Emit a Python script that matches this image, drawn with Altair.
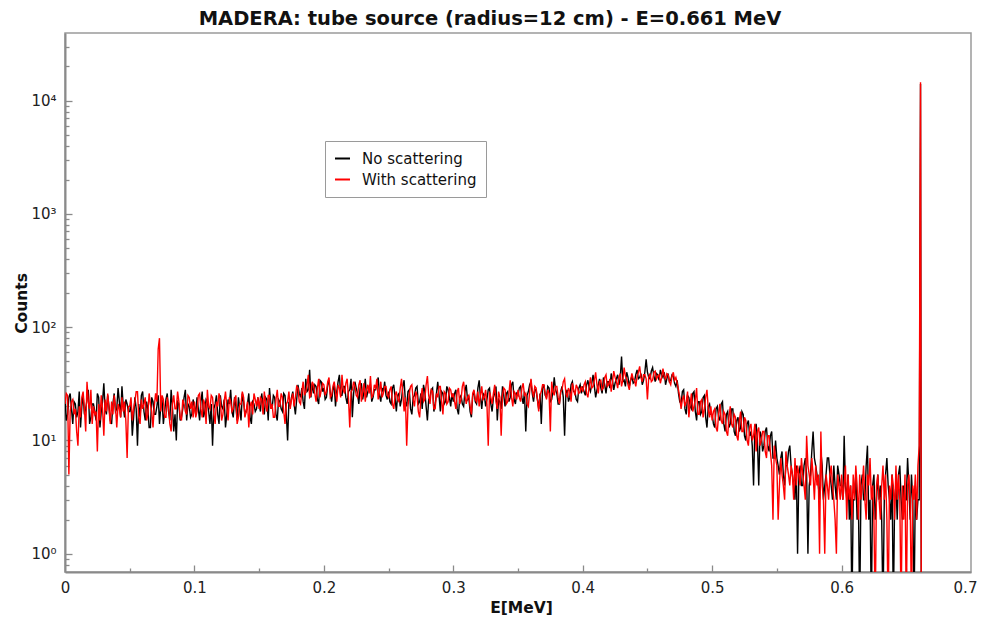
import altair as alt
import pandas as pd

# ---- Data (counts per 0.001 MeV bin) ----
E_START = 0.0
E_STEP = 0.001

# No scattering (black), one list per 0.05 MeV
B0 = [23,15,17,24,26,19,14,22,21,16,18,27,13,20,25,17,19,23,28,14,16,21,21,18,15,26,24,13,18,22,32,19,17,25,20,15,14,21,26,18,19,29,22,16,30,20,16,23,21,18]
B1 = [18,22,11,16,24,19,9,21,16,25,27,18,15,22,19,13,13,24,22,17,17,20,25,14,20,23,14,18,23,26,18,15,28,20,12,17,10,22,21,15,16,19,24,28,15,21,20,16,17,23]
B2 = [20,17,24,19,15,22,27,16,18,23,22,18,14,21,9,19,21,25,17,14,25,20,19,23,13,17,23,21,28,18,16,24,20,15,24,19,15,26,22,17,18,21,26,16,14,22,21,18,19,24]
B3 = [21,18,26,20,17,24,23,15,29,21,19,25,24,17,15,23,22,19,18,26,25,17,10,22,20,24,27,21,17,23,31,26,24,29,22,19,35,27,28,42,24,32,26,31,30,23,21,34,33,27]
B4 = [29,23,24,31,34,26,22,28,31,20,27,33,38,25,25,30,30,24,21,27,28,35,16,26,33,29,26,21,29,32,23,27,35,24,27,30,31,22,24,28,28,32,36,25,22,29,27,33,25,23]
B5 = [27,22,21,29,31,24,18,25,26,20,23,30,34,22,20,27,28,19,17,24,25,29,30,21,22,26,19,31,27,20,15,23,24,28,29,18,21,26,33,25,18,27,26,21,22,30,28,24,20,26]
B6 = [22,26,28,19,17,24,25,21,20,27,31,23,24,18,16,25,27,22,21,29,34,24,19,26,25,20,23,28,29,21,18,24,26,30,15,23,22,19,30,25,20,26,27,22,24,31,33,23,21,26]
B7 = [25,29,30,24,21,27,12,25,27,31,33,26,22,28,28,23,19,26,14,29,31,25,24,30,29,22,23,27,36,28,26,21,21,27,30,24,11,26,28,22,24,31,33,27,27,23,22,29,31,26]
B8 = [30,27,25,31,34,29,27,32,38,30,24,28,31,35,29,26,36,31,26,33,33,29,39,34,28,32,35,38,31,36,55,33,34,30,40,36,30,34,37,32,33,38,42,35,36,39,31,34,40,52]
B9 = [40,36,35,41,44,37,33,39,38,34,42,38,36,40,31,35,39,33,34,38,37,32,30,34,26,22,21,27,28,19,17,25,24,20,19,26,27,18,15,22,22,17,18,24,25,16,13,20,21,17]
B10 = [17,14,13,19,20,16,15,21,22,14,12,17,18,13,14,19,19,12,11,15,16,12,13,18,17,11,10,14,15,11,12,9,4,13,14,10,4,12,11,8,9,12,13,9,8,11,12,7,7,10]
B11 = [7,6,5,7,8,5,4,6,6,8,9,6,5,4,3,6,1,5,6,4,4,6,7,5,1,4,5,8,12,7,6,5,4,3,8,6,3,4,5,7,7,5,4,3,6,4,3,6,5,4]
B12 = [4,3,11,4,3,5,2,4,0,3,3,5,2,3,0,4,5,3,3,6,9,2,3,0,4,5,2,3,5,3,4,2,0,3,5,7,4,3,2,5,0,3,4,2,5,6,3,2,4,3]
B13 = [3,7,4,2,5,3,0,4,2,3]

# With scattering (red)
R0 = [21,26,25,5,18,22,23,17,19,12,9,20,16,24,27,19,12,33,22,19,28,14,20,17,18,8,21,15,25,19,11,23,18,26,19,14,22,17,25,20,13,21,19,16,24,18,22,15,7,20]
R1 = [20,24,15,19,22,27,27,16,14,23,19,21,24,15,17,26,21,18,13,20,26,22,64,80,18,25,23,16,16,24,20,14,12,21,25,19,19,27,22,16,15,23,21,18,17,25,24,19,22,16]
R2 = [22,16,18,25,26,19,16,23,21,14,28,20,19,25,24,17,14,22,20,26,23,15,17,22,27,20,15,24,22,18,19,23,25,14,16,21,21,27,24,16,18,22,13,20,22,17,26,23,20,24]
R3 = [19,24,23,17,27,21,18,25,25,19,21,16,16,23,28,20,20,26,24,18,14,21,22,27,19,23,26,20,24,30,29,22,21,27,33,25,27,31,38,24,25,33,31,26,22,29,35,24,28,32]
R4 = [31,25,27,33,36,24,25,30,33,27,22,31,29,24,38,28,26,32,35,24,13,27,28,33,30,25,24,31,34,22,27,32,22,28,31,26,37,24,25,31,29,35,23,27,33,24,26,30,30,25]
R5 = [24,28,30,21,19,25,27,23,22,29,35,26,18,24,9,20,26,30,31,23,20,27,25,18,16,24,29,22,23,31,37,25,21,28,27,19,19,26,24,30,30,22,17,27,26,21,22,29,28,24]
R6 = [26,22,19,27,29,21,23,30,33,25,21,24,25,20,17,26,28,23,22,27,20,25,30,23,24,28,21,9,27,24,21,26,31,22,19,27,24,11,25,29,28,21,22,26,34,24,20,27,26,23]
R7 = [28,24,22,29,32,25,26,21,20,27,35,28,24,30,29,23,18,25,27,31,31,26,23,28,26,12,33,27,25,30,30,24,21,27,28,33,35,26,24,29,27,22,32,28,25,31,29,26,27,30]
R8 = [27,31,33,26,24,30,36,29,30,34,40,31,26,33,34,28,29,36,38,30,31,35,27,33,41,36,33,29,36,39,30,34,44,37,35,31,28,34,39,35,34,30,37,40,45,36,33,38,38,35]
R9 = [23,36,39,33,34,40,41,35,37,38,32,36,43,37,35,39,38,33,31,37,40,34,36,32,28,24,19,23,25,20,22,27,16,21,26,18,20,23,29,17,17,22,23,16,19,24,28,19,16,20]
R10 = [15,18,19,13,12,17,21,15,14,18,17,12,11,16,20,14,13,17,16,11,10,15,18,12,12,16,15,10,9,13,14,10,11,14,8,12,13,9,10,12,12,8,7,11,11,8,6,2,9,7]
R11 = [6,2,4,7,5,4,3,8,6,5,4,6,5,3,7,4,6,5,4,7,5,4,3,11,6,5,4,7,5,3,6,4,5,1,12,4,3,1,5,4,3,5,6,4,3,2,1,5,4,3]
R12 = [5,3,4,6,2,5,3,4,2,5,3,6,4,2,5,3,4,6,3,2,5,4,7,3,4,2,0,4,5,3,2,4,6,3,5,2,0,4,3,5,4,2,6,3,5,3,0,4,2,5]
R13 = [0,4,5,3,0,4,3,5,2,6]

# photopeak at 0.661 MeV
E_PEAK = [0.6600, 0.6610, 0.6616]
B_PEAK = [3, 14000, 0]
R_PEAK = [9, 14500, 0]

SERIES = ["No scattering", "With scattering"]
COLORS = ["#000000", "#ff0000"]

X_MAJOR = [0, 0.1, 0.2, 0.3, 0.4, 0.5, 0.6, 0.7]
X_MAJOR_TICKS = [0.1, 0.2, 0.3, 0.4, 0.5, 0.6]
X_MINOR_TICKS = [0.05, 0.15, 0.25, 0.35, 0.45, 0.55, 0.65]
Y_MAJOR = [1, 10, 100, 1000, 10000]
Y_MINOR = [0.8, 0.9, 2, 3, 4, 5, 6, 7, 8, 9, 20, 30, 40, 50, 60, 70, 80, 90,
           200, 300, 400, 500, 600, 700, 800, 900,
           2000, 3000, 4000, 5000, 6000, 7000, 8000, 9000, 20000, 30000]

black = B0+B1+B2+B3+B4+B5+B6+B7+B8+B9+B10+B11+B12+B13
red = R0+R1+R2+R3+R4+R5+R6+R7+R8+R9+R10+R11+R12+R13
E_grid = [round(E_START + i * E_STEP, 4) for i in range(len(black))] + E_PEAK
black = black + B_PEAK
red = red + R_PEAK

df_b = pd.DataFrame({"E": E_grid, "counts": black, "series": SERIES[0]})
df_r = pd.DataFrame({"E": E_grid, "counts": red, "series": SERIES[1]})

FONT = "DejaVu Sans"
GRAY = "#8a8a8a"

x_scale = alt.Scale(domain=[0, 0.7], nice=False, zero=False)
y_scale = alt.Scale(type="log", domain=[0.69, 39500], nice=False)

color = alt.Color(
    "series:N",
    scale=alt.Scale(domain=SERIES, range=COLORS),
    legend=alt.Legend(orient="none", legendX=260, legendY=108, title=None,
                      symbolType="stroke", symbolSize=225, symbolStrokeWidth=2,
                      labelFont=FONT, labelFontSize=15, labelColor="#111111",
                      labelOffset=11, rowPadding=4, padding=9,
                      strokeColor="#9a9a9a", fillColor="#ffffff"),
)

x_main = alt.X("E:Q", scale=x_scale, axis=alt.Axis(
    orient="bottom", values=X_MAJOR, format=".1~f", ticks=False, tickSize=0,
    domain=True, domainColor=GRAY, domainWidth=2, grid=False,
    labelFont=FONT, labelFontSize=15, labelColor="#222222", labelPadding=8,
    labelFlush=False, labelOverlap=False,
    labelOffset={"condition": {"test": "datum.value >= 0.65", "value": -6}, "value": 0},
    title="E[MeV]", titleFont=FONT, titleFontSize=15.5, titleFontWeight="bold",
    titleColor="#111111", titleBaseline="alphabetic", titleX=456, titleY=40))

y_main = alt.Y("yv:Q", scale=y_scale, axis=alt.Axis(
    orient="left", values=Y_MAJOR, ticks=False, tickSize=0,
    labelExpr="'10' + ['\u2070','\u00b9','\u00b2','\u00b3','\u2074'][round(log(datum.value)/LN10)]",
    domain=True, domainColor=GRAY, domainWidth=2, grid=False,
    labelFont=FONT, labelFontSize=15, labelColor="#222222", labelPadding=9,
    labelFlush=False, labelOverlap=False,
    title="Counts", titleFont=FONT, titleFontSize=15.5, titleFontWeight="bold",
    titleColor="#111111", titleBaseline="alphabetic", titleAngle=270,
    titleX=-39, titleY=270))

black_layer = alt.Chart(df_b).transform_calculate(
    yv="max(datum.counts, 0.3)"
).mark_line(strokeWidth=1.4, clip=True).encode(x=x_main, y=y_main, color=color)

red_layer = alt.Chart(df_r).transform_calculate(
    yv="max(datum.counts, 0.3)"
).mark_line(strokeWidth=1.4, clip=True).encode(
    x=alt.X("E:Q", scale=x_scale, axis=None),
    y=alt.Y("yv:Q", scale=y_scale, axis=None),
    color=color)


def tick_layer(xvals, yvals, size):
    return alt.Chart(df_b).transform_calculate(
        yv="max(datum.counts, 0.3)"
    ).mark_line(strokeOpacity=0).encode(
        x=alt.X("E:Q", scale=x_scale, axis=alt.Axis(
            orient="bottom", values=xvals, ticks=True, tickSize=size, offset=-size,
            tickColor=GRAY, tickWidth=1.3, domain=False, labels=False, grid=False,
            title="")),
        y=alt.Y("yv:Q", scale=y_scale, axis=alt.Axis(
            orient="left", values=yvals, ticks=True, tickSize=size, offset=-size,
            tickColor=GRAY, tickWidth=1.3, domain=False, labels=False, grid=False,
            title="")),
    )


chart = alt.layer(
    black_layer, red_layer,
    tick_layer(X_MAJOR_TICKS, Y_MAJOR, 7),
    tick_layer(X_MINOR_TICKS, Y_MINOR, 4),
).resolve_axis(x="independent", y="independent").properties(
    width=906, height=539,
    autosize=alt.AutoSizeParams(type="none"),
    padding={"left": 57, "top": 25, "right": 7, "bottom": 48},
    title=alt.Title("MADERA: tube source (radius=12 cm) - E=0.661 MeV",
                    font=FONT, fontSize=19.5, fontWeight="bold", color="#111111",
                    anchor="middle", dx=-28, offset=4),
).configure_view(stroke="#9a9a9a", strokeWidth=1.5)

chart.save("out.html", embed_options={"renderer": "svg", "actions": False})
